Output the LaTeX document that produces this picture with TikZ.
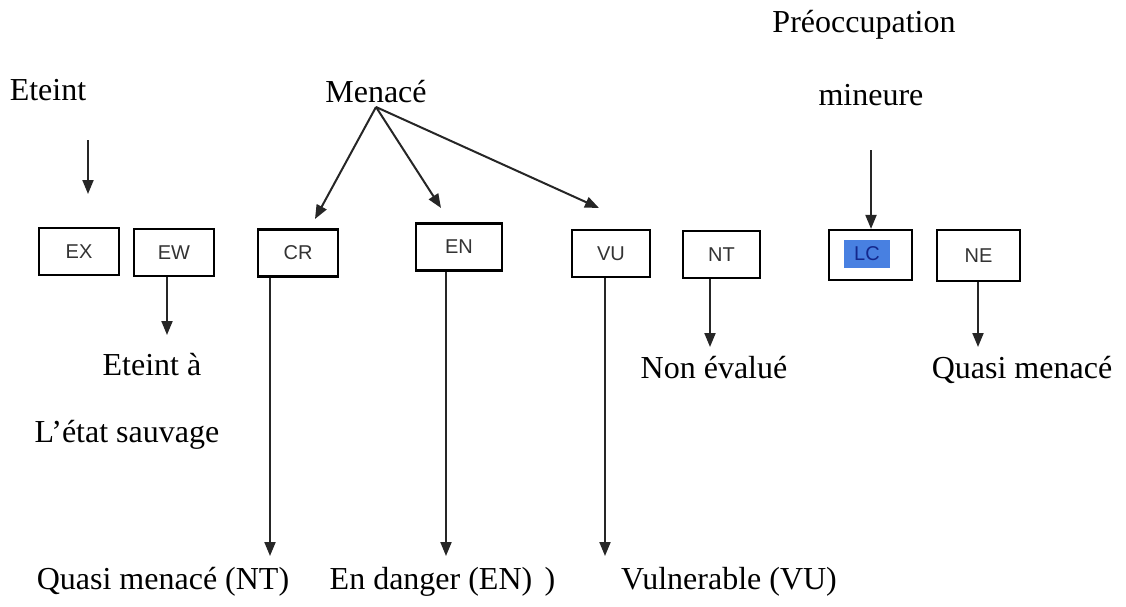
\documentclass[tikz,border=0pt]{standalone}
\usepackage{fontspec}
\setmainfont{Liberation Serif}
\newfontfamily\boxfont{Liberation Sans}
\usetikzlibrary{arrows.meta}
\begin{document}
\begin{tikzpicture}[x=1pt,y=-1pt,
  lbl/.style={inner sep=0pt,font=\fontsize{32}{38}\selectfont},
  catbox/.style={draw=black,line width=2.2pt,minimum width=80pt,minimum height=47pt,inner sep=0pt,
     font=\boxfont\fontsize{20}{22}\selectfont,text=black!80},
  arr/.style={draw=black!85,line width=2pt,-{Triangle[length=14pt,width=11pt]}}]
\useasboundingbox (0,0) rectangle (1126,606);
% top texts
\node[lbl] (eteint) at (48,90) {Eteint};
\node[lbl] (menace) at (376,92) {Menacé};
\node[lbl] (preo) at (864,25) {Préoccupation};
\node[lbl] (mineure) at (871,95) {mineure};
% boxes
\node[catbox] (ex) at (79,251.5) {EX};
\node[catbox] (ew) at (174,252.5) {EW};
\node[catbox] (cr) at (298,253) {CR};
\node[catbox,minimum width=86pt] (en) at (459,247) {EN};
\node[catbox,minimum width=78pt] (vu) at (611,253.5) {VU};
\node[catbox,minimum width=77pt] (nt) at (721.5,254.5) {NT};
\node[catbox,minimum width=83pt,minimum height=50pt] (lc) at (870.5,255) {};
\node[fill={rgb,255:red,72;green,128;blue,225},inner sep=0pt,minimum width=46pt,minimum height=28pt,
  font=\boxfont\fontsize{20}{22}\selectfont,text={rgb,255:red,20;green,40;blue,140}] (lclbl) at (867,254) {LC};
\node[catbox,minimum width=83pt,minimum height=51pt] (ne) at (978.5,255.5) {NE};
% bottom / side texts
\node[lbl] (ewtxt1) at (152,365) {Eteint à};
\node[lbl] (ewtxt2) at (127,435) {L’état sauvage};
\node[lbl] (crtxt) at (163,582) {Quasi menacé (NT)};
\node[lbl] (entxt) at (431,582) {En danger (EN)};
\node[lbl] (paren) at (550,582) {)};
\node[lbl] (vutxt) at (729,582) {Vulnerable (VU)};
\node[lbl] (nttxt) at (714,368) {Non évalué};
\node[lbl] (netxt) at (1022,370) {Quasi menacé};
% free ends
\coordinate (exA) at (88,140);
\coordinate (exB) at (88,194);
\coordinate (mO) at (376,107);
\coordinate (mCR) at (315,219);
\coordinate (mEN) at (441,208);
\coordinate (mVU) at (599,208);
\coordinate (lcA) at (871,150);
% arrows
\draw[arr] (exA) -- (exB);
\draw[arr] (mO) -- (mCR);
\draw[arr] (mO) -- (mEN);
\draw[arr] (mO) -- (mVU);
\draw[arr] (lcA) -- (lc.north -| lcA);
\draw[arr] (ew.south -| 167,0) -- (167,335);
\draw[arr] (cr.south -| 270,0) -- (270,556);
\draw[arr] (en.south -| 446,0) -- (446,556);
\draw[arr] (vu.south -| 605,0) -- (605,556);
\draw[arr] (nt.south -| 710,0) -- (710,347);
\draw[arr] (ne.south -| 978,0) -- (978,347);
\end{tikzpicture}
\end{document}
